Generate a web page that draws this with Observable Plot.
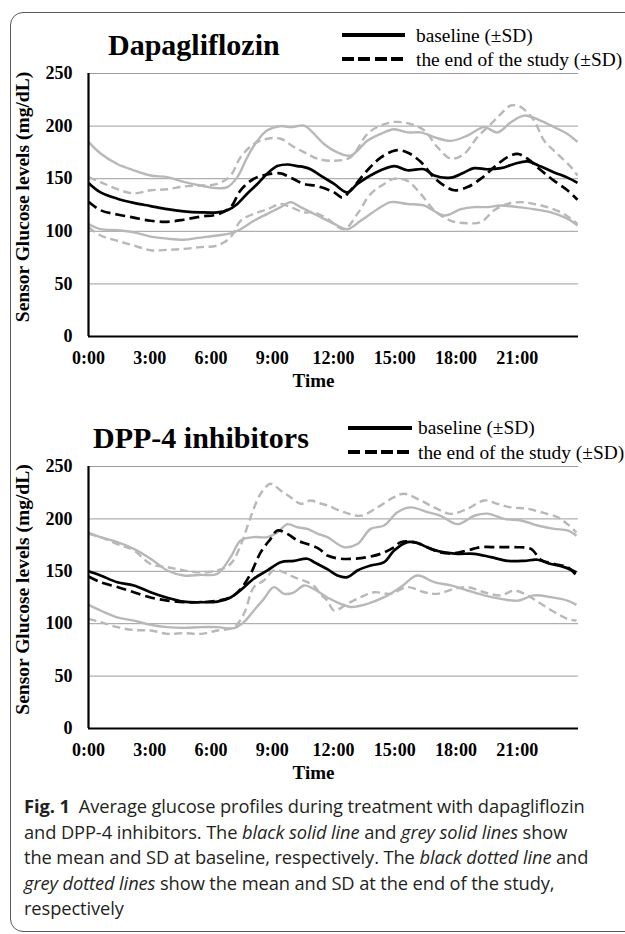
<!DOCTYPE html>
<html><head><meta charset="utf-8">
<script src="https://cdn.jsdelivr.net/npm/d3@7"></script>
<script src="https://cdn.jsdelivr.net/npm/@observablehq/plot@0.6"></script>
<style>
body{margin:0;background:#fff;}
#root{position:relative;width:625px;height:934px;overflow:hidden;background:#fff;}
.frame{position:absolute;left:10px;top:12px;width:700px;height:920px;border:1.5px solid #5a5a5a;border-radius:13px;box-sizing:border-box;}
.ptitle{position:absolute;font-family:"Liberation Serif","Times New Roman",serif;font-weight:bold;font-size:30px;line-height:30px;white-space:nowrap;color:#000;}
.leg{position:absolute;font-family:"Liberation Serif","Times New Roman",serif;font-size:19.4px;line-height:20px;white-space:nowrap;color:#000;}
.sw{position:absolute;height:4px;}
.solid{background:#000;}
.dash{background:repeating-linear-gradient(to right,#000 0 12px,transparent 12px 16.5px);}
.plotwrap{position:absolute;left:0;}
.cap{position:absolute;left:24px;top:793px;font-family:"Open Sans","Noto Sans",sans-serif;font-size:18.3px;line-height:25.5px;color:#231f20;white-space:nowrap;letter-spacing:-0.1px;}
.cap b{font-weight:700;}
</style>
</head><body>
<div id="root">
  <div class="frame"></div>
</div>
<script>
// ---------- data (hour of day, glucose mg/dL) ----------
const xTicks = [0, 3, 6, 9, 12, 15, 18, 21];
const yTicks = [0, 50, 100, 150, 200, 250];
const gridValues = [50, 100, 150, 200, 250];

const panelTitles = ["Dapagliflozin", "DPP-4 inhibitors"];
const legendLabels = ["baseline (\u00B1SD)", "the end of the study (\u00B1SD)"];
const yLabel = "Sensor Glucose levels (mg/dL)";
const xLabel = "Time";

// Dapagliflozin
const dapaBaseMean = [[0,146],[0.59,137],[1.41,131],[2.22,127],[3.04,124],[3.86,121],[4.67,119],[5.49,118],[6.31,118],[6.8,120],[7.29,126],[7.78,136],[8.27,145],[8.76,155],[9.25,162],[9.74,163.5],[10.23,162],[10.56,161],[10.88,159],[11.37,153],[12.03,145],[12.68,137],[13.17,145],[13.99,155],[14.97,162],[15.62,158],[16.44,159],[16.93,153],[17.75,151],[18.4,156],[18.89,160],[19.54,159],[20.2,160],[20.85,164],[21.5,166.5],[22.16,161.5],[22.81,156],[23.46,151],[23.95,146]];
const dapaEndMean = [[0,128],[0.59,120],[1.41,116],[2.22,113],[3.04,110],[3.86,109],[4.67,111],[5.49,114],[6.31,116],[6.96,123],[7.45,139],[8.1,150],[8.76,154],[9.41,155],[9.9,151],[10.56,145],[11.21,143],[12.03,137],[12.43,132],[12.84,139],[13.66,158],[14.31,170],[15.05,177],[15.62,175],[16.27,166],[16.93,151],[17.42,143.5],[17.91,139],[18.56,142],[19.22,150],[19.87,161],[20.52,170.5],[21.01,173.6],[21.5,169],[22.16,158],[22.81,148],[23.46,139],[23.95,130]];
const dapaBaseUp = [[0,185],[0.59,174],[1.41,164],[2.22,158],[3.04,153],[3.86,151.5],[4.67,147],[5.49,143.5],[6.31,141],[6.8,142],[7.29,151.5],[7.78,170.5],[8.27,186],[8.76,196],[9.41,200],[9.9,199],[10.56,200.5],[10.88,196],[11.54,183],[12.19,175],[12.84,172],[13.66,186],[14.31,192.6],[14.97,197],[15.62,194],[16.27,194],[16.93,189.5],[17.75,186],[18.56,191],[19.38,199],[20.03,194],[20.69,203.7],[21.34,210],[22.16,205],[22.81,199],[23.46,192.6],[23.95,185]];
const dapaBaseLo = [[0,107],[0.59,102],[1.41,101],[2.22,99],[3.04,95],[3.86,93],[4.67,92],[5.49,94],[6.31,96],[6.96,98],[7.45,102],[8.1,110],[8.76,116.6],[9.41,123],[9.9,127.7],[10.39,123],[11.21,115],[12.03,107],[12.68,102],[13.33,110],[14.15,121],[14.8,127.7],[15.62,126],[16.44,124.5],[17.42,115],[18.24,121],[18.89,123],[19.54,123],[20.2,124.5],[21.01,123],[21.83,121],[22.65,118],[23.46,112],[23.95,105.5]];
const dapaEndUp = [[0,151.5],[0.59,146.7],[1.41,140],[2.22,136],[3.04,139],[3.86,140],[4.67,142.6],[5.49,143.5],[6.31,145],[6.96,153],[7.45,170.5],[8.1,183],[8.76,188],[9.41,188],[10.07,180],[10.72,173.6],[11.21,169],[12.03,167],[12.84,170.5],[13.66,192.6],[14.31,200.5],[15.05,204],[15.78,202],[16.44,196],[17.09,180],[17.75,169],[18.4,173.6],[19.05,189.5],[19.71,202],[20.2,211.7],[20.69,219.6],[21.18,218],[21.83,205],[22.32,186],[22.97,173.6],[23.63,161],[23.95,153]];
const dapaEndLo = [[0,104],[0.59,96],[1.41,91],[2.22,86.5],[3.04,82],[3.86,82.4],[4.67,83.3],[5.49,85],[6.31,86.5],[6.96,94.4],[7.45,110],[8.1,116.6],[8.76,121],[9.41,126],[9.9,123],[10.56,118],[11.05,118],[11.7,112],[12.52,102],[13.17,116.6],[13.82,135.6],[14.48,145],[14.97,150],[15.62,148],[16.27,135.6],[16.93,120],[17.75,110],[18.56,107.7],[19.22,108.7],[19.87,120],[20.52,126],[21.18,127.7],[21.83,126],[22.48,123],[23.14,118],[23.63,112],[23.95,107]];

// DPP-4 inhibitors
const dppBaseMean = [[0,150],[0.59,146],[1.41,139.6],[2.22,136.5],[3.04,130],[3.86,124.7],[4.67,121],[5.49,120.5],[6.31,121],[6.96,125],[7.45,132],[8.1,143],[8.76,150.8],[9.41,158.7],[10.07,160],[10.72,162],[11.05,158.7],[11.7,152],[12.19,146],[12.68,144.4],[13.17,150.8],[13.82,155.5],[14.48,158.7],[14.97,169.8],[15.62,177.8],[16.11,177],[16.76,171.4],[17.42,168],[18.07,166.7],[18.89,166.7],[19.71,163.5],[20.52,160],[21.34,160],[21.99,161],[22.65,157],[23.3,154],[23.9,149]];
const dppEndMean = [[0,145],[0.59,139.6],[1.41,135],[2.22,130],[3.04,125],[3.86,122],[4.67,120.5],[5.49,120.5],[6.31,122],[6.96,125],[7.45,133],[7.94,147.6],[8.43,168],[8.92,181],[9.25,189],[9.74,185.7],[10.23,179.4],[10.72,176],[11.29,171.4],[11.7,165],[12.35,162],[13.01,162],[13.66,163.5],[14.31,166.7],[14.97,173],[15.29,177.8],[15.95,177.8],[16.6,173],[17.25,168],[17.91,167.3],[18.56,170],[19.22,173],[20.03,173],[20.85,173],[21.67,171.4],[22.16,161],[22.81,157],[23.46,154],[23.9,146]];
const dppBaseUp = [[0,187],[0.59,182.6],[1.41,177.8],[2.22,171.4],[3.04,162],[3.86,150.8],[4.67,146],[5.49,146.6],[6.31,147.6],[6.96,163.5],[7.45,179.4],[8.1,182.6],[8.76,182.6],[9.25,187],[9.74,195],[10.23,192],[10.72,190.5],[11.21,186],[11.7,182.6],[12.52,173],[13.17,176],[13.82,190.5],[14.48,193.7],[15.13,206.4],[15.78,211],[16.6,206.4],[17.25,203],[18.07,195],[18.89,203],[19.54,205],[20.36,200],[21.18,198.5],[21.99,193.7],[22.81,190.5],[23.46,189],[23.9,184]];
const dppBaseLo = [[0,118],[0.59,112.6],[1.41,106],[2.22,103],[3.04,99],[3.86,96.7],[4.67,96],[5.49,96.7],[6.31,96.7],[7.12,95.7],[7.61,101.5],[8.1,112.6],[8.59,123.7],[9.08,134.9],[9.58,128.5],[10.07,130],[10.56,136.5],[11.05,133],[11.7,125],[12.35,119],[12.84,116],[13.66,119],[14.48,125.3],[15.29,134.9],[16.11,146],[16.93,139.6],[17.75,136.5],[18.56,131.7],[19.38,127],[20.2,123.7],[21.01,122],[21.83,127],[22.65,125.3],[23.46,122],[23.9,118]];
const dppEndUp = [[0,185.7],[0.59,182.6],[1.41,176],[2.22,170],[3.04,157],[3.86,154],[4.67,150.8],[5.49,149],[6.31,150.8],[6.96,157],[7.45,174.6],[7.94,201.7],[8.43,224],[8.92,233.5],[9.41,227],[9.9,220.7],[10.39,214.4],[10.88,217.6],[11.3,215],[11.7,212.8],[12.52,206.4],[13.33,203],[14.15,211],[14.97,220.7],[15.46,224],[16.27,217.6],[16.93,211],[17.75,204.8],[18.56,209.7],[19.38,217.6],[20.03,214.4],[20.69,211],[21.5,209.7],[22.16,206.4],[22.97,201.7],[23.46,195],[23.9,187]];
const dppEndLo = [[0,104.6],[0.59,101.5],[1.41,96.7],[2.22,94],[3.04,93.5],[3.86,90.3],[4.67,91],[5.49,90.3],[6.31,93.5],[7.12,96.7],[7.61,109.4],[8.1,134.9],[8.59,141.2],[9.08,150.8],[9.58,149],[10.07,144.4],[10.56,141],[11.05,136],[11.37,128],[11.7,122],[12.03,112.6],[12.68,119],[13.33,125.3],[13.99,130],[14.8,128.5],[15.62,134.9],[16.44,130],[17.09,128.5],[17.91,133.3],[18.56,134.9],[19.38,130],[20.2,127],[20.85,131.7],[21.5,127],[22.16,119],[22.97,109.4],[23.46,104.6],[23.9,103]];

// ---------- layout ----------
const root = document.getElementById("root");
const panels = [
  {svgTop: 60, plotH: 263, title: panelTitles[0], titleLeft: 108, titleBase: 55,
   legX: 342, legW: 63, legY1: 35, legY2: 59, legTextX: 416, legBase1: 43, legBase2: 67,
   series: {baseMean: dapaBaseMean, endMean: dapaEndMean, baseUp: dapaBaseUp, baseLo: dapaBaseLo, endUp: dapaEndUp, endLo: dapaEndLo}},
  {svgTop: 453, plotH: 262, title: panelTitles[1], titleLeft: 93, titleBase: 448,
   legX: 348, legW: 64, legY1: 428, legY2: 452, legTextX: 418, legBase1: 435, legBase2: 460,
   series: {baseMean: dppBaseMean, endMean: dppEndMean, baseUp: dppBaseUp, baseLo: dppBaseLo, endUp: dppEndUp, endLo: dppEndLo}}
];

const GREY = "#b8b8b8";
const serif = "'Liberation Serif','Times New Roman',serif";

function lineMark(arr, opts) {
  return Plot.line(arr, Object.assign({x: d => d[0], y: d => d[1], curve: "catmull-rom", strokeLinejoin: "round", strokeLinecap: "butt"}, opts));
}

for (const p of panels) {
  const s = p.series;
  const mt = 13, mb = 60;
  const chart = Plot.plot({
    width: 625,
    height: mt + p.plotH + mb,
    marginLeft: 88, marginRight: 47, marginTop: mt, marginBottom: mb,
    style: {fontFamily: serif, background: "transparent", overflow: "visible", color: "#000"},
    x: {domain: [0, 24]},
    y: {domain: [0, 250]},
    marks: [
      Plot.ruleY(gridValues, {stroke: "#9c9c9c", strokeWidth: 1}),
      lineMark(s.baseUp, {stroke: GREY, strokeWidth: 2.4}),
      lineMark(s.baseLo, {stroke: GREY, strokeWidth: 2.4}),
      lineMark(s.endUp, {stroke: GREY, strokeWidth: 2.4, strokeDasharray: "8,4.5"}),
      lineMark(s.endLo, {stroke: GREY, strokeWidth: 2.4, strokeDasharray: "8,4.5"}),
      lineMark(s.baseMean, {stroke: "#000", strokeWidth: 2.7}),
      lineMark(s.endMean, {stroke: "#000", strokeWidth: 2.7, strokeDasharray: "10,5"}),
      Plot.ruleY([0], {stroke: "#000", strokeWidth: 2.2}),
      Plot.ruleX([0], {y1: 0, y2: 250, stroke: "#000", strokeWidth: 2.2}),
      Plot.axisX({ticks: xTicks, tickFormat: h => `${h}:00`, tickSize: 0, tickPadding: 15, fontSize: 18, fontWeight: "bold", label: null}),
      Plot.axisY({ticks: yTicks, tickSize: 0, tickPadding: 16, fontSize: 18, fontWeight: "bold", label: null}),
      Plot.text([xLabel], {frameAnchor: "bottom", dy: 50, dx: -20, fontSize: 19, fontWeight: "bold", fill: "#000"}),
      Plot.text([yLabel], {frameAnchor: "left", textAnchor: "middle", dx: -66, dy: -8, rotate: -90, fontSize: 19.5, fontWeight: "bold", fill: "#000"})
    ]
  });
  const wrap = document.createElement("div");
  wrap.className = "plotwrap";
  wrap.style.top = p.svgTop + "px";
  wrap.appendChild(chart);
  root.appendChild(wrap);

  const t = document.createElement("div");
  t.className = "ptitle";
  t.textContent = p.title;
  t.style.left = p.titleLeft + "px";
  t.style.top = (p.titleBase - 25) + "px";
  root.appendChild(t);

  const sw1 = document.createElement("div");
  sw1.className = "sw solid";
  Object.assign(sw1.style, {left: p.legX + "px", width: p.legW + "px", top: (p.legY1 - 2) + "px"});
  root.appendChild(sw1);
  const sw2 = document.createElement("div");
  sw2.className = "sw dash";
  Object.assign(sw2.style, {left: p.legX + "px", width: p.legW + "px", top: (p.legY2 - 2) + "px"});
  root.appendChild(sw2);

  [[legendLabels[0], p.legBase1], [legendLabels[1], p.legBase2]].forEach(([txt, base]) => {
    const l = document.createElement("div");
    l.className = "leg";
    l.textContent = txt;
    l.style.left = p.legTextX + "px";
    l.style.top = (base - 17) + "px";
    root.appendChild(l);
  });
}

const cap = document.createElement("div");
cap.className = "cap";
cap.innerHTML = '<b>Fig. 1</b>&ensp;Average glucose profiles during treatment with dapagliflozin<br>' +
  'and DPP-4 inhibitors. The <i>black solid line</i> and <i>grey solid lines</i> show<br>' +
  'the mean and SD at baseline, respectively. The <i>black dotted line</i> and<br>' +
  '<i>grey dotted lines</i> show the mean and SD at the end of the study,<br>' +
  'respectively';
root.appendChild(cap);
</script>
</body></html>
